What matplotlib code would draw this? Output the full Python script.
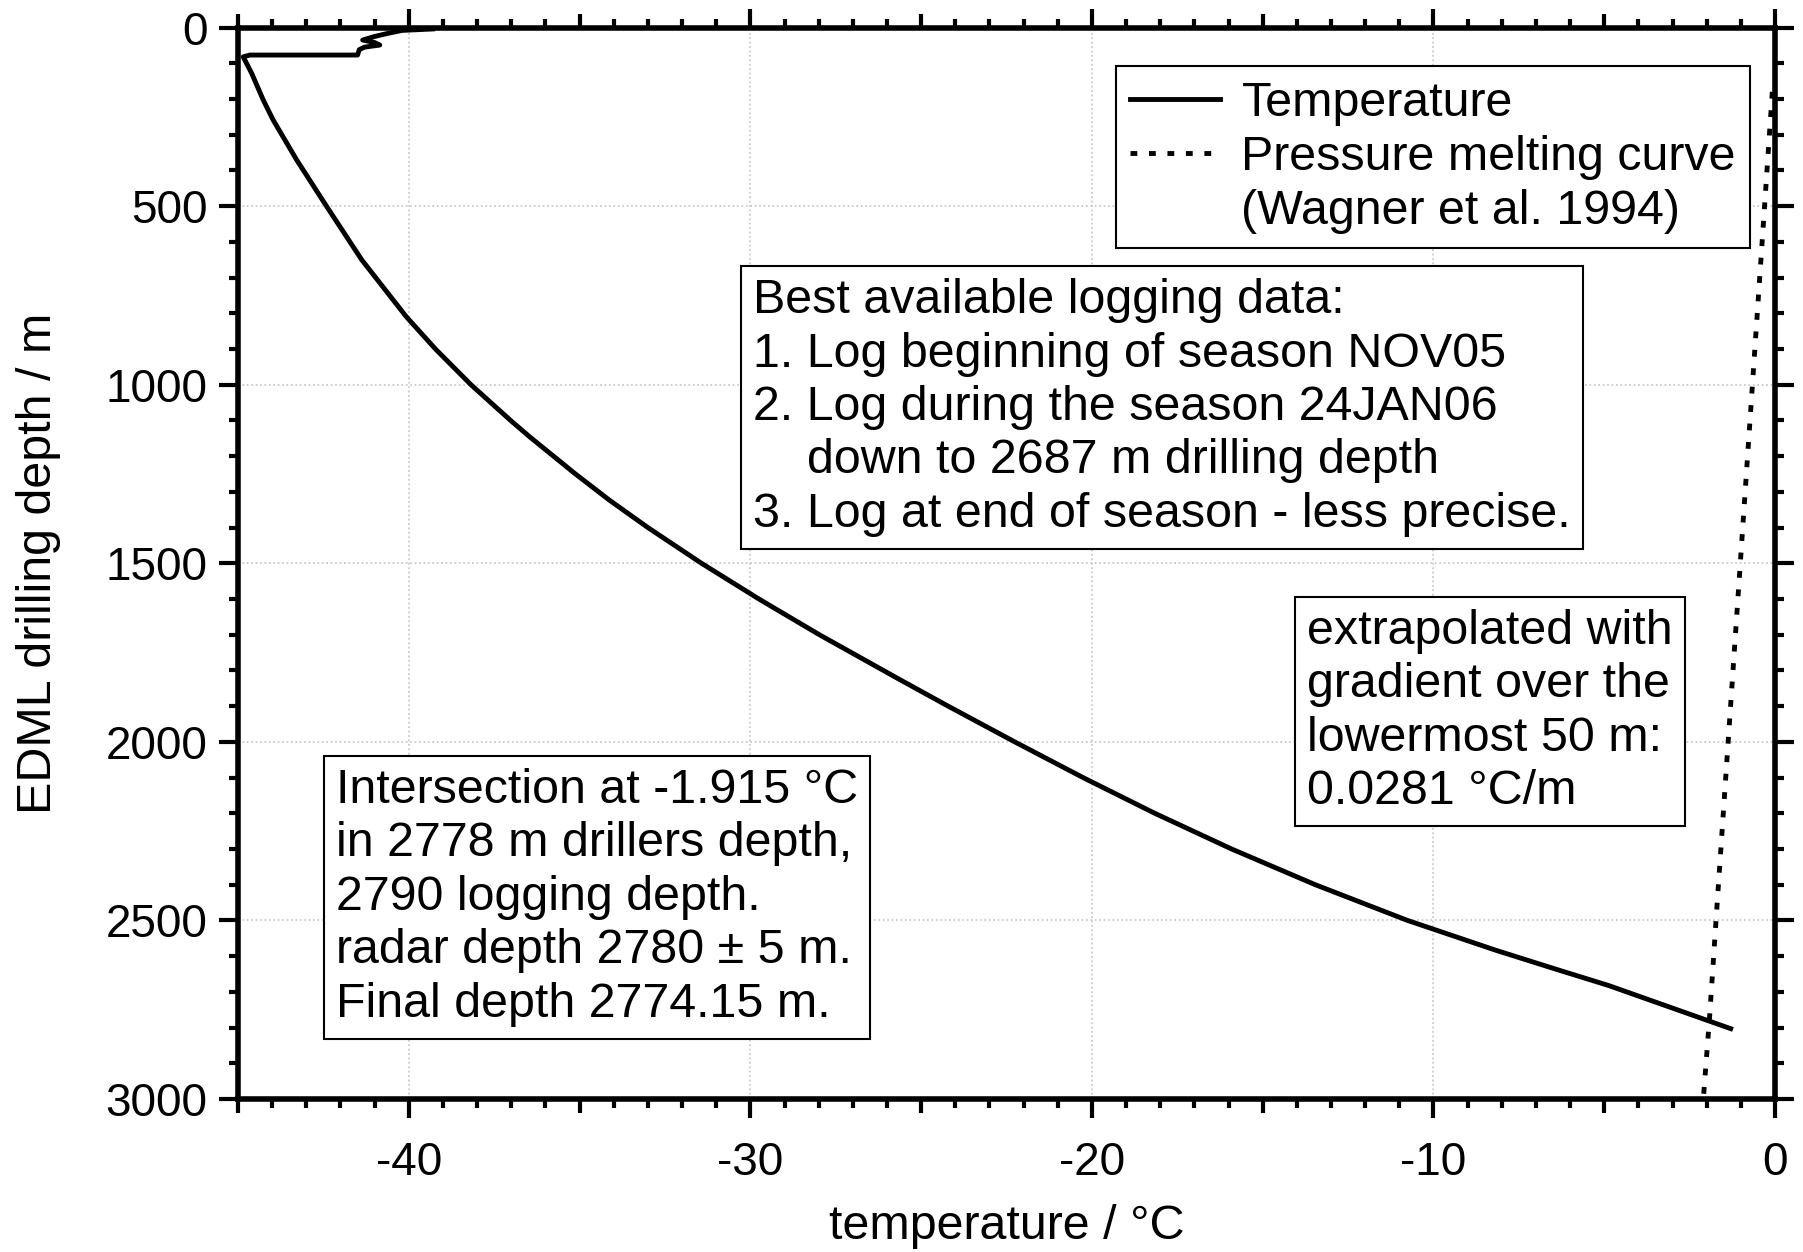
import numpy as np
import matplotlib.pyplot as plt
from matplotlib.ticker import MultipleLocator, FuncFormatter
from matplotlib.lines import Line2D

plt.rcParams["font.family"] = ["Liberation Sans", "DejaVu Sans"]

# borehole log (drilling depth in m, temperature in degC)
log_depth = [4, 8, 16, 25, 35, 42, 49, 55, 62, 77, 77, 82, 91, 128, 203, 259,
             371, 500, 650, 810, 900, 1000, 1100, 1146, 1250, 1323, 1400,
             1500, 1600, 1700, 1827, 1900, 2000, 2100, 2200, 2300, 2400,
             2500, 2584, 2640, 2682, 2803]
log_temp = [-39.3, -40.2, -40.6, -41.0, -41.35, -41.0, -40.85, -41.3, -41.45,
            -41.5, -44.65, -44.85, -44.8, -44.6, -44.26, -43.97, -43.28,
            -42.41, -41.38, -40.07, -39.22, -38.18, -37.02, -36.46, -35.12,
            -34.13, -33.0, -31.43, -29.75, -27.98, -25.6, -24.21, -22.26,
            -20.26, -18.16, -15.91, -13.46, -10.76, -8.16, -6.3, -4.88, -1.3]

# pressure melting point (Wagner et al. 1994)
melt_depth = [180, 800, 2460, 2775, 3000]
melt_temp = [-0.08, -0.52, -1.70, -1.92, -2.10]

legend_labels = ["Temperature", "Pressure melting curve", "(Wagner et al. 1994)"]

note_logging = ("Best available logging data:\n"
                "1. Log beginning of season NOV05\n"
                "2. Log during the season 24JAN06\n"
                "    down to 2687 m drilling depth\n"
                "3. Log at end of season - less precise.")
note_extrap = ("extrapolated with\n"
               "gradient over the\n"
               "lowermost 50 m:\n"
               "0.0281 °C/m")
note_inter = ("Intersection at -1.915 °C\n"
              "in 2778 m drillers depth,\n"
              "2790 logging depth.\n"
              "radar depth 2780 ± 5 m.\n"
              "Final depth 2774.15 m.")

fs = 33      # tick labels
fs_txt = 34.8  # labels, legend and notes
dotted = (0, (1.4, 2.4))

fig = plt.figure(figsize=(18.03, 12.52), dpi=100)
ax = fig.add_axes([0.132, 0.1222, 0.8525, 0.8558])

ax.plot(log_temp, log_depth, color="black", lw=3.5, solid_joinstyle="round")
ax.plot(melt_temp, melt_depth, color="black", lw=3.5, ls=dotted)

ax.set_xlim(-45, 0)
ax.set_ylim(3000, 0)

ax.xaxis.set_major_locator(MultipleLocator(5))
ax.xaxis.set_minor_locator(MultipleLocator(1))
ax.xaxis.set_major_formatter(
    FuncFormatter(lambda v, p: str(int(round(v))) if round(v) % 10 == 0 else ""))
ax.yaxis.set_major_locator(MultipleLocator(500))
ax.yaxis.set_minor_locator(MultipleLocator(100))

ax.tick_params(which="both", direction="out", top=True, right=True,
               labelsize=fs, width=3)
ax.tick_params(which="major", length=14)
ax.tick_params(which="minor", length=6.5)
ax.tick_params(axis="x", which="major", pad=16)
ax.tick_params(axis="y", which="major", pad=8)

for s in ax.spines.values():
    s.set_linewidth(4)

ax.grid(which="major", color="#c4c4c4", ls=":", lw=1.2)

# 5-degree ticks are shorter and have no grid line
for t, v in zip(ax.xaxis.get_major_ticks(), ax.xaxis.get_majorticklocs()):
    if round(v) % 10 != 0:
        t.tick1line.set_markersize(10)
        t.tick2line.set_markersize(10)
        t.gridline.set_visible(False)

ax.set_xlabel("temperature / °C", fontsize=fs_txt, labelpad=14)
ax.set_ylabel("EDML drilling depth / m", fontsize=fs_txt, labelpad=32)

handles = [Line2D([], [], color="black", lw=3.5),
           Line2D([], [], color="black", lw=3.5, ls=dotted),
           Line2D([], [], color="none")]
leg = ax.legend(handles, legend_labels, loc="upper right",
                bbox_to_anchor=(0.984, 0.964), borderaxespad=0,
                fancybox=False, edgecolor="black", framealpha=1,
                fontsize=fs_txt, handlelength=1.85, handletextpad=0.45,
                borderpad=0.3, labelspacing=0.19)
leg.get_frame().set_linewidth(1.5)

box = dict(boxstyle="square,pad=0.25", fc="white", ec="black", lw=1.5)
ax.text(0.335, 0.766, note_logging, transform=ax.transAxes, fontsize=fs_txt,
        ha="left", va="top", linespacing=1.24, bbox=box)
ax.text(0.6955, 0.4573, note_extrap, transform=ax.transAxes, fontsize=fs_txt,
        ha="left", va="top", linespacing=1.24, bbox=box)
ax.text(0.0638, 0.309, note_inter, transform=ax.transAxes, fontsize=fs_txt,
        ha="left", va="top", linespacing=1.24, bbox=box)

fig.savefig("out.png", dpi=100)
